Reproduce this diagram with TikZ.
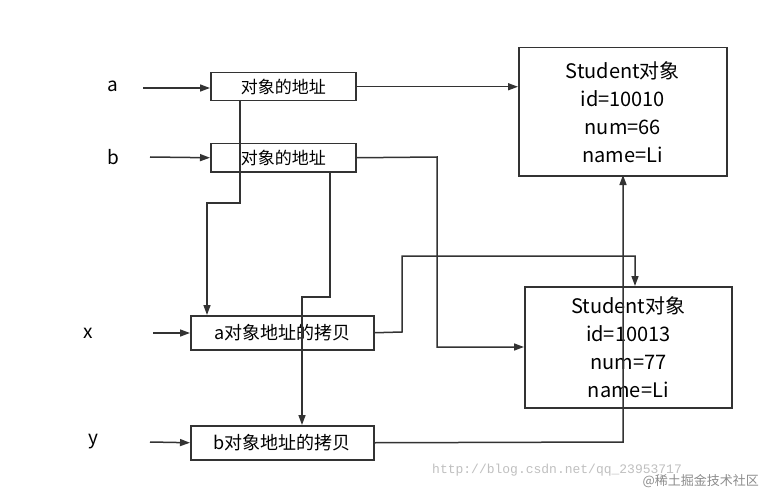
\documentclass[tikz,border=0pt]{standalone}
\usepackage{fontspec}
\setmainfont{Noto Sans CJK SC}
\newfontfamily\mono{Liberation Mono}
\usetikzlibrary{arrows.meta}
\begin{document}
\begin{tikzpicture}[x=1pt,y=-1pt,
  box/.style={draw=black!80,line width=1.5pt,inner sep=0pt,anchor=north west},
  arr/.style={draw=black!80,line width=1.5pt,-{Triangle[length=10pt,width=7pt]}},
  lbl/.style={font=\fontsize{19}{22}\selectfont}]
\useasboundingbox (0,0) rectangle (763,492);
\node[box,minimum width=145pt,minimum height=28pt,font=\fontsize{17}{19}\selectfont] (A1) at (210,72) {对象的地址};
\node[box,minimum width=145pt,minimum height=28pt,font=\fontsize{17}{19}\selectfont] (B1) at (210,143) {对象的地址};
\node[box,minimum width=183pt,minimum height=34pt,font=\fontsize{18}{20}\selectfont] (AC) at (190,315) {a对象地址的拷贝};
\node[box,minimum width=183pt,minimum height=34pt,font=\fontsize{18}{20}\selectfont] (BC) at (190,425) {b对象地址的拷贝};
\node[box,minimum width=208pt,minimum height=128pt,font=\fontsize{20}{28}\selectfont,align=center] (S1) at (518,47) {Student对象\\id=10010\\num=66\\name=Li};
\node[box,minimum width=207pt,minimum height=121pt,font=\fontsize{20}{28}\selectfont,align=center,anchor=north west] (S2) at (524,286) {Student对象\\id=10013\\num=77\\name=Li};
\node[lbl] (la) at (113,86) {a};
\node[lbl] (lb) at (113,157) {b};
\node[lbl] (lx) at (88,333) {x};
\node[lbl] (ly) at (93,442) {y};
\coordinate (ia) at (143,88);
\coordinate (ib) at (150,157);
\coordinate (ix) at (153,333);
\coordinate (iy) at (150,442);
\draw[arr] (ia) -- (A1.west|-ia);
\draw[arr] (ib) -- (B1.west);
\draw[arr] (ix) -- (AC.west|-ix);
\draw[arr] (iy) -- (BC.west);
\draw[arr] (A1.east) -- (S1.west|-A1.east);
\draw[arr] (240,100) -- (240,203) -- (207,203) -- (207,315);
\draw[arr] (B1.east) -- (437,157) -- (437,347) -- (524,347);
\draw[arr] (330,171) -- (330,297) -- (302,297) -- (302,425);
\draw[arr] (AC.east) -- (402,332) -- (402,256) -- (635,256) -- (635,286);
\draw[arr] (BC.east) -- (623,442) -- (623,175);
\node[anchor=west,text=black!25,font=\mono\fontsize{13}{15}\selectfont,inner sep=0pt] (wm) at (432,470) {http://blog.csdn.net/qq\_23953717};
\node[anchor=east,text=black!45,font=\fontsize{13}{15}\selectfont,inner sep=1pt] (wm2) at (760,481) {@稀土掘金技术社区};
\end{tikzpicture}
\end{document}
